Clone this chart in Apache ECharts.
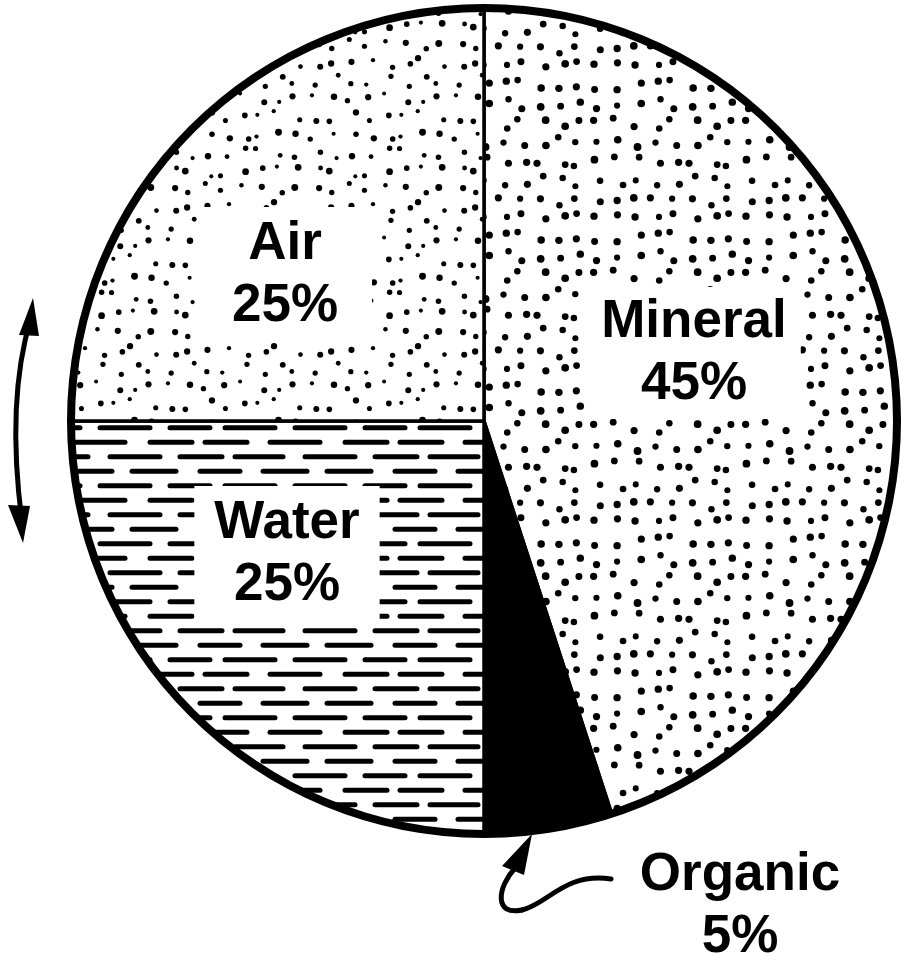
<!DOCTYPE html>
<html>
<head>
<meta charset="utf-8">
<script src="https://cdn.jsdelivr.net/npm/echarts@6/dist/echarts.min.js"></script>
<style>
html,body{margin:0;padding:0;background:#fff;}
#chart{width:914px;height:961px;}
</style>
</head>
<body>
<div id="chart"></div>
<script>
// ---- data ----
const categories = ['Mineral', 'Organic', 'Water', 'Air'];
const values = [45, 5, 25, 25];

// ---- texture helpers (decorative fills) ----
function hash(i, j, s) {
  const v = Math.sin(i * 12.9898 + j * 78.233 + s * 37.719) * 43758.5453;
  return v - Math.floor(v);
}
function dotPattern(step, cells, rMin, rMax, seed) {
  const size = step * cells;
  const c = document.createElement('canvas');
  c.width = size; c.height = size;
  const g = c.getContext('2d');
  g.fillStyle = '#fff'; g.fillRect(0, 0, size, size);
  g.fillStyle = '#000';
  for (let i = 0; i < cells; i++) {
    for (let j = 0; j < cells; j++) {
      const r = rMin + (rMax - rMin) * hash(i, j, seed + 3);
      const m = step / 2 - r - 0.5;
      const x = i * step + step / 2 + (hash(i, j, seed) * 2 - 1) * m;
      const y = j * step + step / 2 + (hash(i, j, seed + 1) * 2 - 1) * m;
      g.beginPath(); g.arc(x, y, r, 0, Math.PI * 2); g.fill();
    }
  }
  return c;
}
function dashPattern() {
  const w = 195, rowH = 14.5, rows = 4;
  const c = document.createElement('canvas');
  c.width = w; c.height = rowH * rows;
  const g = c.getContext('2d');
  g.fillStyle = '#fff'; g.fillRect(0, 0, w, rowH * rows);
  g.strokeStyle = '#000'; g.lineWidth = 5; g.lineCap = 'round';
  const rowsDef = [
    [[5, 45], [68, 112], [132, 176]],
    [[30, 80], [100, 150], [170, 210]],
    [[10, 52], [75, 125], [150, 192]],
    [[40, 88], [110, 160], [180, 222]]
  ];
  rowsDef.forEach((segs, r) => {
    const y = r * rowH + rowH / 2;
    segs.forEach(s => {
      [0, -w].forEach(off => {
        g.beginPath(); g.moveTo(s[0] + off, y); g.lineTo(s[1] + off, y); g.stroke();
      });
    });
  });
  return c;
}

const fills = {
  Mineral: { image: dotPattern(19, 8, 3.0, 3.9, 1), repeat: 'repeat' },
  Organic: '#000',
  Water: { image: dashPattern(), repeat: 'repeat' },
  Air: { image: dotPattern(18, 8, 2.0, 3.5, 7), repeat: 'repeat' }
};
const labelBoxes = {
  Mineral: { backgroundColor: '#fff', padding: [4, 14] },
  Organic: { backgroundColor: 'transparent', padding: 0 },
  Water: { backgroundColor: '#fff', padding: [6, 20] },
  Air: { backgroundColor: '#fff', padding: [6, 34] }
};
const labelPos = {
  Mineral: [694, 353],
  Organic: [740, 906],
  Water: [287, 554],
  Air: [285, 275]
};

const pieData = categories.map((name, i) => ({
  name: name,
  value: values[i],
  itemStyle: { color: fills[name] },
  label: labelBoxes[name]
}));
const total = values.reduce((a, b) => a + b, 0);

const chart = echarts.init(document.getElementById('chart'), null, { renderer: 'canvas' });
chart.setOption({
  backgroundColor: '#fff',
  animation: false,
  series: [
    {
      type: 'pie',
      center: [484, 421],
      radius: [0, 412],
      startAngle: 90,
      clockwise: true,
      silent: true,
      itemStyle: { borderColor: '#000', borderWidth: 3.5 },
      label: {
        show: true,
        position: 'inside',
        formatter: p => p.name + '\n' + p.value + '%',
        fontFamily: '"Liberation Sans", Arial, sans-serif',
        fontWeight: 'bold',
        fontSize: 53,
        lineHeight: 62,
        color: '#000',
        align: 'center',
        verticalAlign: 'middle'
      },
      labelLine: { show: false },
      labelLayout: function (params) {
        const p = labelPos[categories[params.dataIndex]];
        return { x: p[0], y: p[1], align: 'center', verticalAlign: 'middle' };
      },
      data: pieData
    },
    {
      type: 'pie',
      center: [484, 421],
      radius: [409, 417],
      silent: true,
      label: { show: false },
      labelLine: { show: false },
      itemStyle: { color: '#000' },
      data: [{ name: 'outline', value: total }]
    }
  ],
  graphic: [
    // left double arrow
    { type: 'bezierCurve', shape: { x1: 31, y1: 318, x2: 22, y2: 522, cpx1: 6, cpy1: 400 }, style: { stroke: '#000', lineWidth: 5, fill: null } },
    { type: 'polygon', shape: { points: [[33, 298], [19, 335], [39, 336]] }, style: { fill: '#000' } },
    { type: 'polygon', shape: { points: [[23, 543], [8, 505], [30, 506]] }, style: { fill: '#000' } },
    // organic pointer
    { type: 'bezierCurve', shape: { x1: 515, y1: 868, x2: 522, y2: 910, cpx1: 497, cpy1: 888, cpx2: 494, cpy2: 916 }, style: { stroke: '#000', lineWidth: 5, fill: null, lineCap: 'round' } },
    { type: 'bezierCurve', shape: { x1: 522, y1: 910, x2: 611, y2: 879, cpx1: 548, cpy1: 904, cpx2: 565, cpy2: 872 }, style: { stroke: '#000', lineWidth: 5, fill: null, lineCap: 'round' } },
    { type: 'polygon', shape: { points: [[532, 834], [502, 866], [524, 875]] }, style: { fill: '#000' } }
  ]
});
</script>
</body>
</html>
